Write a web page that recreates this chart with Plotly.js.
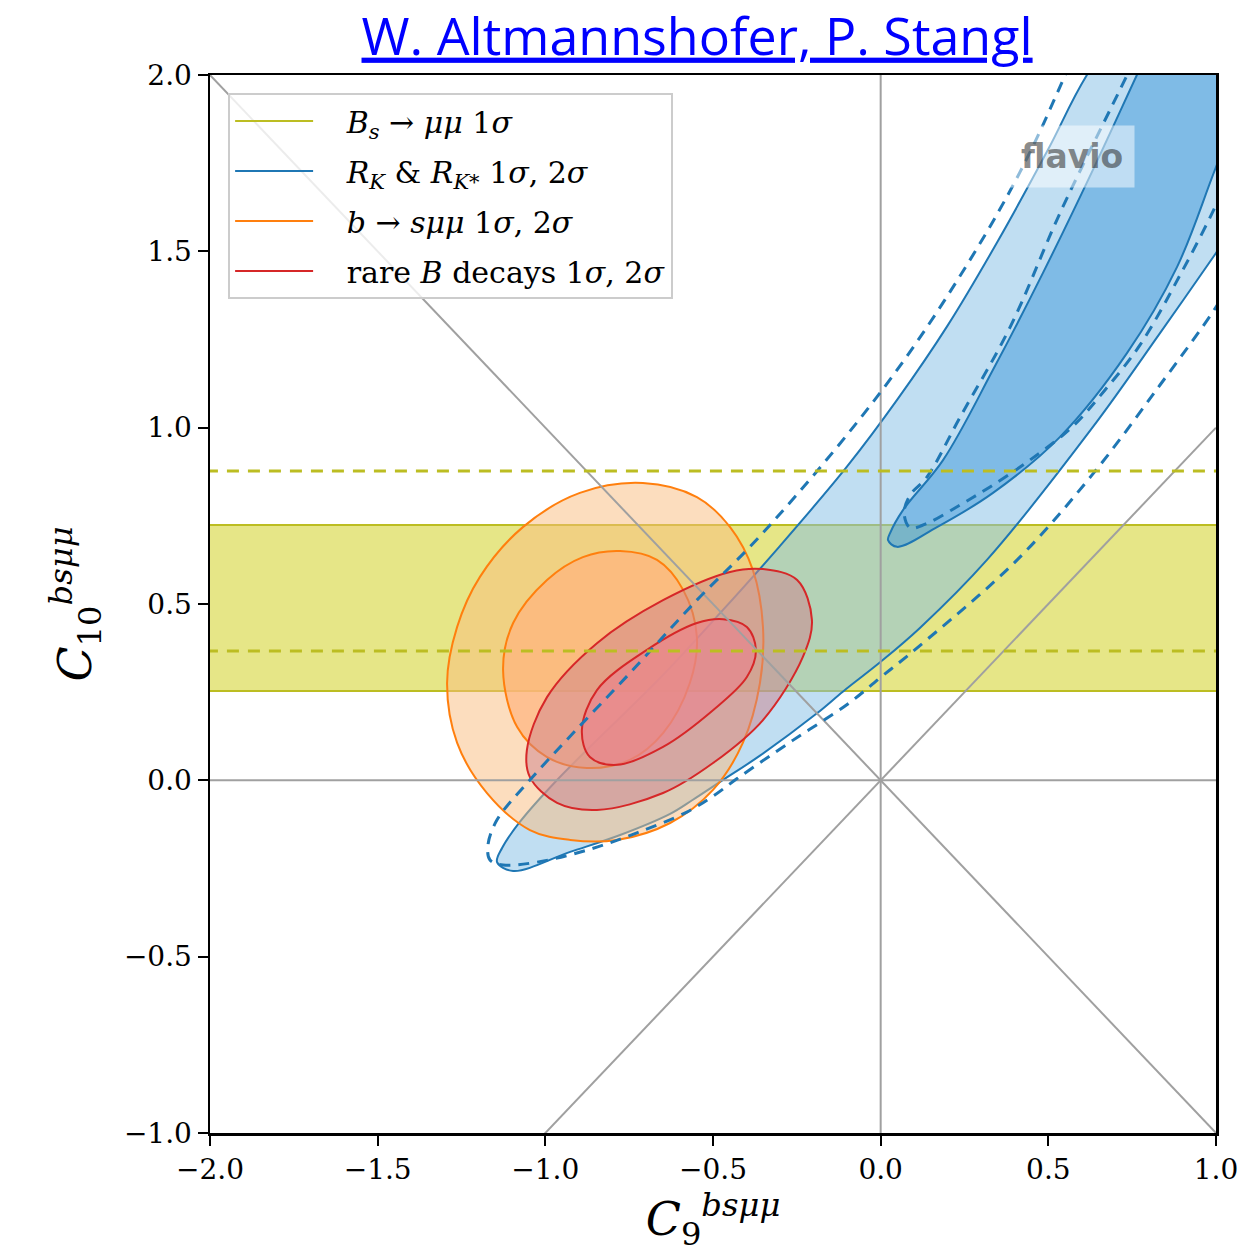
<!DOCTYPE html>
<html>
<head>
<meta charset="utf-8">
<script src="https://cdn.plot.ly/plotly-3.0.1.min.js"></script>
<style>html,body{margin:0;padding:0;background:#fff;}#chart{width:1239px;height:1257px;}</style>
</head>
<body>
<div id="chart"></div>
<script>
// ---- data (C9, C10 coordinates) ----
// B_s -> mu mu 1 sigma band and the dashed band
const bsLow = 0.253, bsHigh = 0.724;
const bsDashLow = 0.367, bsDashHigh = 0.877;
const bandX = [-2.2, 1.2];

// R_K & R_K* 2 sigma (solid)
const rk2X = [0.87, 0.615, 0.5, 0.35, 0.2, 0.05, -0.1, -0.3, -0.479, -0.658, -0.965, -1.076, -1.129, -1.144, -1.096, -0.926, -0.777, -0.628, -0.56, -0.48, -0.36, -0.19, -0.112, 0.0, 0.117, 0.317, 0.633, 0.833, 1.0, 1.25, 1.35];
const rk2Y = [2.34, 2.0, 1.79, 1.53, 1.29, 1.08, 0.89, 0.665, 0.474, 0.29, 0.001, -0.118, -0.192, -0.232, -0.257, -0.203, -0.155, -0.095, -0.055, -0.005, 0.07, 0.19, 0.252, 0.336, 0.432, 0.625, 1.002, 1.268, 1.495, 1.84, 2.4];
// R_K & R_K* 1 sigma (solid)
const rk1X = [0.9, 0.764, 0.633, 0.484, 0.335, 0.186, 0.067, 0.028, 0.022, 0.049, 0.168, 0.335, 0.535, 0.735, 0.884, 1.0, 1.15, 1.2];
const rk1Y = [2.28, 2.0, 1.731, 1.439, 1.164, 0.908, 0.767, 0.701, 0.681, 0.662, 0.718, 0.815, 0.974, 1.212, 1.456, 1.739, 2.1, 2.4];
// R_K & R_K* dashed contours
const rk1dX = [0.78, 0.735, 0.535, 0.386, 0.237, 0.138, 0.088, 0.070, 0.088, 0.141, 0.237, 0.326, 0.445, 0.571, 0.669, 0.773, 0.893, 1.0, 1.072];
const rk1dY = [2.09, 2.0, 1.609, 1.285, 1.030, 0.860, 0.809, 0.758, 0.716, 0.730, 0.781, 0.832, 0.908, 1.002, 1.107, 1.234, 1.433, 1.631, 1.787];
const rk2dX = [0.609, 0.541, 0.45, 0.35, 0.2, 0.05, -0.1, -0.25, -0.39, -0.548, -0.748, -0.917, -1.046, -1.144, -1.171, -1.165, -1.126, -1.025, -0.876, -0.727, -0.578, -0.5, -0.428, -0.261, -0.1, 0.0, 0.108, 0.407, 0.633, 0.833, 1.0, 1.101];
const rk2dY = [2.128, 1.98, 1.79, 1.61, 1.375, 1.165, 0.98, 0.81, 0.662, 0.511, 0.304, 0.134, 0.001, -0.112, -0.183, -0.226, -0.240, -0.232, -0.198, -0.149, -0.09, -0.045, 0.005, 0.114, 0.215, 0.292, 0.375, 0.625, 0.869, 1.121, 1.342, 1.504];

// b -> s mu mu
const bsmm2X = [-0.709, -0.548, -0.449, -0.381, -0.351, -0.360, -0.411, -0.500, -0.628, -0.786, -0.926, -1.046, -1.174, -1.263, -1.293, -1.263, -1.195, -1.067, -0.897];
const bsmm2Y = [0.843, 0.803, 0.718, 0.596, 0.435, 0.276, 0.106, -0.027, -0.121, -0.169, -0.169, -0.141, -0.036, 0.106, 0.276, 0.435, 0.577, 0.718, 0.815];
const bsmm1X = [-0.777, -0.667, -0.589, -0.548, -0.569, -0.649, -0.748, -0.876, -0.995, -1.084, -1.126, -1.096, -0.995, -0.888];
const bsmm1Y = [0.650, 0.625, 0.540, 0.406, 0.276, 0.134, 0.058, 0.035, 0.066, 0.151, 0.313, 0.446, 0.568, 0.633];

// rare B decays
const rare2X = [-1.055, -0.995, -0.846, -0.649, -0.449, -0.351, -0.249, -0.205, -0.232, -0.351, -0.500, -0.649, -0.846, -0.965, -1.046];
const rare2Y = [0.086, 0.236, 0.389, 0.511, 0.591, 0.599, 0.568, 0.455, 0.350, 0.171, 0.049, -0.036, -0.084, -0.064, 0.009];
const rare1X = [-0.891, -0.846, -0.697, -0.548, -0.470, -0.399, -0.372, -0.399, -0.500, -0.649, -0.786, -0.867];
const rare1Y = [0.143, 0.256, 0.370, 0.446, 0.457, 0.435, 0.370, 0.293, 0.199, 0.095, 0.044, 0.066];

// grey guide lines
const guideX = [-2, 1];
const yRange = [-1, 2];

const legendLabels = [
  '<i>B<sub>s</sub></i> → <i>μμ</i> 1<i>σ</i>',
  '<i>R<sub>K</sub></i> &amp; <i>R<sub>K*</sub></i> 1<i>σ</i>, 2<i>σ</i>',
  '<i>b</i> → <i>sμμ</i> 1<i>σ</i>, 2<i>σ</i>',
  'rare <i>B</i> decays 1<i>σ</i>, 2<i>σ</i>'
];

// ---- styles ----
const olive = '#bcbd22', blue = '#1f77b4', orange = '#ff7f0e', red = '#d62728', grey = '#a0a0a0';

function closed(a) { return a.concat([a[0]]); }
function region(xs, ys, fill, col, isClosed) {
  return {x: isClosed ? closed(xs) : xs, y: isClosed ? closed(ys) : ys, mode: 'lines', fill: 'toself', fillcolor: fill,
    line: {color: col, width: 2, shape: 'spline', smoothing: 1}, showlegend: false, hoverinfo: 'skip'};
}
function dashed(xs, ys, col, w, dash) {
  return {x: xs, y: ys, mode: 'lines', line: {color: col, width: w, dash: dash, shape: 'spline', smoothing: 1},
    showlegend: false, hoverinfo: 'skip'};
}

const traces = [];
// B_s band
traces.push({x: [bandX[0], bandX[1], bandX[1], bandX[0], bandX[0]], y: [bsLow, bsLow, bsHigh, bsHigh, bsLow],
  mode: 'lines', fill: 'toself', fillcolor: 'rgba(205,205,15,0.5)', line: {color: olive, width: 2},
  showlegend: false, hoverinfo: 'skip'});
// R_K
traces.push(region(rk2X, rk2Y, 'rgba(129,189,229,0.5)', blue, false));
traces.push(region(rk1X, rk1Y, 'rgba(62,152,218,0.5)', blue, false));
// b -> s mu mu
traces.push(region(bsmm2X, bsmm2Y, 'rgba(249,187,125,0.5)', orange, true));
traces.push(region(bsmm1X, bsmm1Y, 'rgba(255,179,125,0.7)', orange, true));
// rare B
traces.push(region(rare2X, rare2Y, 'rgba(205,130,140,0.5)', red, true));
traces.push(region(rare1X, rare1Y, 'rgba(235,129,140,0.6)', red, true));
// grey guides
const gl = {color: grey, width: 2};
traces.push({x: guideX, y: guideX.map(v => v), mode: 'lines', line: gl, showlegend: false, hoverinfo: 'skip'});
traces.push({x: guideX, y: guideX.map(v => -v), mode: 'lines', line: gl, showlegend: false, hoverinfo: 'skip'});
traces.push({x: [0, 0], y: yRange, mode: 'lines', line: gl, showlegend: false, hoverinfo: 'skip'});
traces.push({x: guideX, y: [0, 0], mode: 'lines', line: gl, showlegend: false, hoverinfo: 'skip'});
// dashed contours
traces.push(dashed(rk2dX, rk2dY, blue, 3, '11px,8px'));
traces.push(dashed(rk1dX, rk1dY, blue, 3, '11px,8px'));
traces.push({x: bandX, y: [bsDashHigh, bsDashHigh], mode: 'lines', line: {color: olive, width: 3, dash: '12px,9px'}, showlegend: false, hoverinfo: 'skip'});
traces.push({x: bandX, y: [bsDashLow, bsDashLow], mode: 'lines', line: {color: olive, width: 3, dash: '12px,9px'}, showlegend: false, hoverinfo: 'skip'});
// legend entries
const pad = '\u00a0\u00a0\u00a0';
[olive, blue, orange, red].forEach((c, i) => {
  traces.push({x: [null], y: [null], mode: 'lines', line: {color: c, width: 2}, name: pad + legendLabels[i], legendgroup: 'g' + i, showlegend: true});
});

const serif = 'DejaVu Serif, Liberation Serif, serif';
const axisCommon = {
  ticks: 'outside', ticklen: 10, tickwidth: 2, tickcolor: 'black',
  showline: true, linecolor: 'black', linewidth: 2.5, mirror: true,
  showgrid: false, zeroline: false, tickformat: '.1f', dtick: 0.5,
  tickfont: {family: serif, size: 28, color: 'black'}
};

const layout = {
  width: 1239, height: 1257,
  margin: {l: 210, r: 23, t: 75, b: 124},
  paper_bgcolor: 'white', plot_bgcolor: 'white',
  title: {text: '<u>W. Altmannshofer, P. Stangl</u>', font: {family: 'Open Sans, DejaVu Sans, sans-serif', size: 52, color: '#0000ff'},
    xref: 'container', x: 0.5626, xanchor: 'center', yref: 'container', y: 0.971, yanchor: 'middle'},
  xaxis: Object.assign({}, axisCommon, {range: [-2, 1], tick0: -2,
    title: {text: '<i>C</i><sub>9</sub><sup><i>bsμμ</i></sup>', font: {family: serif, size: 46, color: 'black'}, standoff: 12}}),
  yaxis: Object.assign({}, axisCommon, {range: [-1, 2], tick0: -1,
    title: {text: '<i>C</i><sub>10</sub><sup><i>bsμμ</i></sup>', font: {family: serif, size: 46, color: 'black'}, standoff: 18}}),
  legend: {x: 0.018, y: 0.983, xanchor: 'left', yanchor: 'top', bgcolor: 'rgba(255,255,255,0.8)',
    bordercolor: '#cccccc', borderwidth: 2, font: {family: serif, size: 30, color: 'black'},
    itemwidth: 78, traceorder: 'grouped', tracegroupgap: 8},
  annotations: [{text: '<b>flavio</b>', xref: 'paper', yref: 'paper', x: 0.857, y: 0.9225, xanchor: 'center', yanchor: 'middle',
    showarrow: false, font: {family: 'DejaVu Sans, sans-serif', size: 33, color: 'rgba(40,40,40,0.55)'},
    bgcolor: 'rgba(255,255,255,0.5)', borderpad: 11}],
  showlegend: true
};

Plotly.newPlot('chart', traces, layout, {displayModeBar: false, staticPlot: true});
</script>
</body>
</html>
